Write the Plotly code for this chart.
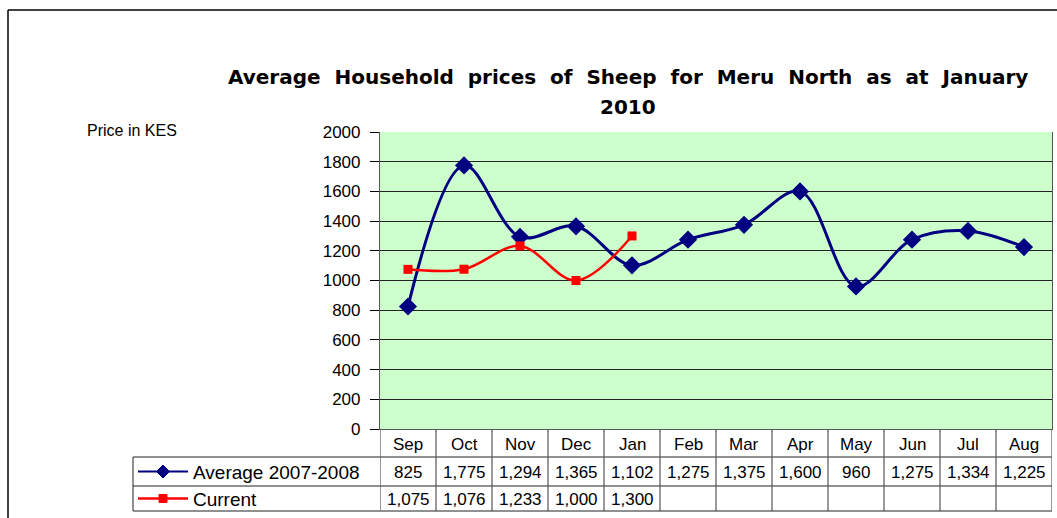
import plotly.graph_objects as go

# chart data
months = ["Sep", "Oct", "Nov", "Dec", "Jan", "Feb", "Mar", "Apr", "May", "Jun", "Jul", "Aug"]
average_2007_2008 = [825, 1775, 1294, 1365, 1102, 1275, 1375, 1600, 960, 1275, 1334, 1225]
current = [1075, 1076, 1233, 1000, 1300, None, None, None, None, None, None, None]
series_names = ["Average 2007-2008", "Current"]
y_ticks = [0, 200, 400, 600, 800, 1000, 1200, 1400, 1600, 1800, 2000]
title_lines = ["Average Household prices of Sheep for Meru North as at January", "2010"]

# plot area in pixels (canvas 1057 x 518)
WIDTH, HEIGHT = 1057, 518
L, R, T, B = 380, 1052, 132, 429
PW, PH = R - L, B - T

NAVY = "#000080"
RED = "#FF0000"
FONT = "Arial, Liberation Sans, sans-serif"


def px_x(px):
    return (px - L) / PW


def px_y(py):
    return (B - py) / PH


fig = go.Figure()

fig.add_trace(go.Scatter(
    x=months, y=average_2007_2008, name=series_names[0],
    mode="lines+markers",
    line=dict(color=NAVY, width=3, shape="spline", smoothing=1.0),
    marker=dict(symbol="diamond", size=14, color=NAVY),
    cliponaxis=False,
))
fig.add_trace(go.Scatter(
    x=months, y=current, name=series_names[1],
    mode="lines+markers",
    line=dict(color=RED, width=2.5, shape="spline", smoothing=1.0),
    marker=dict(symbol="square", size=9, color=RED),
    cliponaxis=False,
))

shapes = []
annotations = []

# data table below the plot
row_header = (429, 457)
row_avg = (457, 486)
row_cur = (486, 511)
line_col = "#222222"

for py in [row_header[1], row_avg[1], row_cur[1]]:
    shapes.append(dict(type="line", xref="paper", yref="paper",
                       x0=px_x(133), x1=px_x(R), y0=px_y(py), y1=px_y(py),
                       line=dict(color=line_col, width=1)))
shapes.append(dict(type="line", xref="paper", yref="paper",
                   x0=px_x(133), x1=px_x(133), y0=px_y(row_avg[0]), y1=px_y(row_cur[1]),
                   line=dict(color=line_col, width=1)))
for i in range(len(months) + 1):
    shapes.append(dict(type="line", xref="x", yref="paper",
                       x0=i - 0.5, x1=i - 0.5, y0=px_y(row_header[0]), y1=px_y(row_cur[1]),
                       line=dict(color="#555555", width=1.2)))

cell_font = dict(family=FONT, size=17, color="black")


def cell(x, py, text, xref="x", xanchor="center", font=cell_font):
    return dict(x=x, xref=xref, y=px_y(py), yref="paper", text=text,
                xanchor=xanchor, yanchor="middle", showarrow=False, font=font)


for i, m in enumerate(months):
    annotations.append(cell(m, sum(row_header) / 2 + 1, m))
    annotations.append(cell(m, sum(row_avg) / 2 + 1, f"{average_2007_2008[i]:,}"))
    if current[i] is not None:
        annotations.append(cell(m, sum(row_cur) / 2 + 1, f"{current[i]:,}"))

# legend keys inside the table
label_font = dict(family=FONT, size=19, color="black")
for (row, color, kind, label) in [(row_avg, NAVY, "diamond", series_names[0]),
                                  (row_cur, RED, "square", series_names[1])]:
    cy = sum(row) / 2
    shapes.append(dict(type="line", xref="paper", yref="paper",
                       x0=px_x(138), x1=px_x(188), y0=px_y(cy), y1=px_y(cy),
                       line=dict(color=color, width=2.5 if kind == "square" else 2)))
    cx = 163
    if kind == "diamond":
        s = 6.5
        pts = [(cx, cy - s), (cx + s, cy), (cx, cy + s), (cx - s, cy)]
    else:
        s = 4
        pts = [(cx - s, cy - s), (cx + s, cy - s), (cx + s, cy + s), (cx - s, cy + s)]
    path = "M " + " L ".join(f"{px_x(a)},{px_y(b)}" for a, b in pts) + " Z"
    shapes.append(dict(type="path", xref="paper", yref="paper", path=path,
                       fillcolor=color, line=dict(color=color, width=1)))
    annotations.append(cell(px_x(191), cy + 1, label, xref="paper", xanchor="left",
                            font=label_font))

# outer chart frame (extends past the picture on the right and bottom)
shapes.append(dict(type="line", xref="paper", yref="paper",
                   x0=px_x(8), x1=px_x(1060), y0=px_y(10), y1=px_y(10),
                   line=dict(color="black", width=1.5)))
shapes.append(dict(type="line", xref="paper", yref="paper",
                   x0=px_x(8), x1=px_x(8), y0=px_y(10), y1=px_y(520),
                   line=dict(color="black", width=1.5)))

# title (two lines) and axis caption
title_font = dict(family="Comic Sans MS, DejaVu Sans, sans-serif", size=20, color="black")
for line, py in zip(title_lines, [77, 107]):
    annotations.append(cell(px_x(628), py, "<b>" + line.replace(" ", "\u00a0\u00a0") + "</b>",
                            xref="paper", font=title_font))
annotations.append(cell(px_x(85), 131, "Price in KES", xref="paper", xanchor="left",
                        font=dict(family=FONT, size=16, color="black")))

fig.update_layout(
    width=WIDTH, height=HEIGHT,
    margin=dict(l=L, r=WIDTH - R, t=T, b=HEIGHT - B, pad=0),
    paper_bgcolor="white",
    plot_bgcolor="#CCFFCC",
    showlegend=False,
    shapes=shapes,
    annotations=annotations,
    xaxis=dict(type="category", categoryorder="array", categoryarray=months,
               range=[-0.5, len(months) - 0.5], showticklabels=False, showgrid=False,
               showline=True, linecolor="#555555", linewidth=1.2, zeroline=False, ticks=""),
    yaxis=dict(range=[0, 2000], tickvals=y_ticks, ticks="outside", ticklen=9,
               tickcolor="black", showgrid=True, gridcolor="#222222", gridwidth=1,
               showline=True, linecolor="#555555", linewidth=1.2, mirror=True,
               ticklabelstandoff=6,
               zeroline=False, tickfont=dict(family=FONT, size=17, color="black")),
)

fig.write_html("out.html", config={"displayModeBar": False},
               post_script="document.body.style.margin='0';")
